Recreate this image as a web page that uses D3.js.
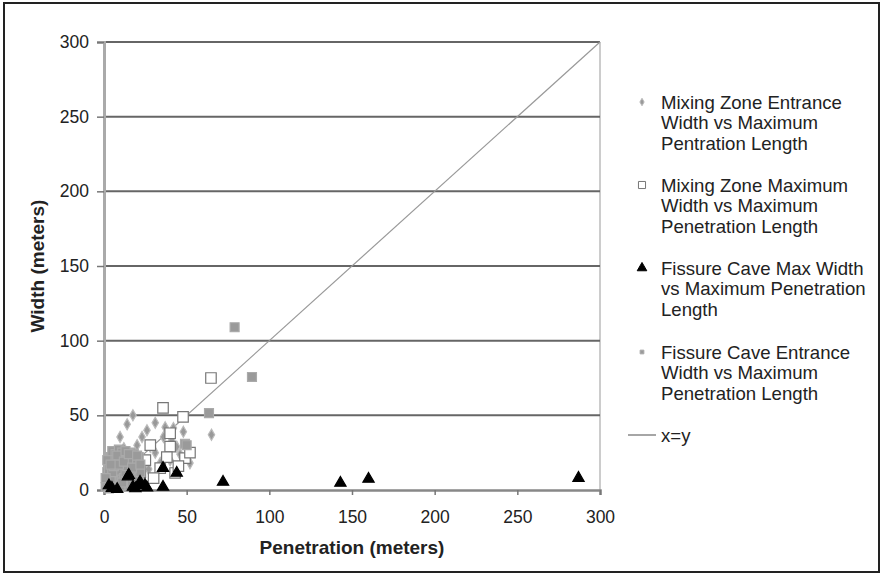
<!DOCTYPE html>
<html>
<head>
<meta charset="utf-8">
<script src="https://cdn.jsdelivr.net/npm/d3@7"></script>
<style>
  body { margin: 0; background: #fff; }
  svg { display: block; font-family: "Liberation Sans", Arial, sans-serif; }
</style>
</head>
<body>
<svg id="chart" width="882" height="575"></svg>
<script>
// data: [penetration, width] in meters
const mzEntrance = [
  [17.5, 50], [9.7, 35.5], [23, 35.5], [31, 45], [37, 42], [42, 41.5], [48, 39],
  [65, 37], [36, 35.5], [41, 33.5], [28, 29], [44, 29], [52, 18], [40, 20],
  [31, 25], [14, 44], [26, 40], [20, 30], [34, 18], [12, 28], [46, 24], [27, 14]
];
const mzMaximum = [
  [64.7, 75], [35.7, 55], [47.8, 49], [40, 29], [49, 21.4], [34, 14.7], [43, 11.4],
  [25, 20], [28, 30], [38, 22], [45, 16], [52, 25], [22, 12], [30, 8], [40, 38]
];
const fcMaxWidth = [
  [4.8, 1.3], [3, 3], [8, 0.5], [15, 10], [14.5, 9], [17.5, 2], [19, 1], [21.8, 3.4],
  [21.8, 5.4], [24.8, 3.3], [26, 1.5], [35.7, 2], [35.7, 14.7], [44, 11.4],
  [72, 5.4], [143, 4.7], [160, 7.4], [287, 8]
];
const fcEntrance = [
  [79, 109], [89.5, 75.7], [63.5, 51.5], [49, 31], [50, 30],
  [1, 2], [2, 5], [3, 9], [4, 13], [5, 17], [6, 21], [7, 3], [8, 7], [9, 11],
  [10, 15], [11, 19], [12, 23], [13, 4], [14, 8], [15, 12], [16, 16], [17, 20],
  [18, 24], [19, 6], [20, 14], [2, 12], [3, 18], [4, 22], [5, 7], [6, 11],
  [7, 15], [8, 19], [9, 2], [10, 6], [11, 10], [12, 14], [13, 18], [14, 22],
  [15, 3], [16, 7], [17, 11], [18, 15], [19, 19], [21, 22], [6, 25], [10, 24], [3, 1],
  [4, 4], [5, 26], [7, 24], [8, 13], [9, 27], [10, 3], [11, 25], [12, 8], [13, 12],
  [14, 16], [15, 20], [16, 25], [17, 5], [18, 9], [19, 13], [20, 18], [21, 8],
  [22, 12], [2, 20], [3, 14], [4, 8], [5, 12], [6, 16], [7, 20], [8, 23], [9, 17],
  [11, 5], [12, 19], [13, 26], [15, 24], [17, 15], [20, 23], [22, 17], [1, 8], [4, 17]
];
const xTicks = [0, 50, 100, 150, 200, 250, 300];
const yTicks = [0, 50, 100, 150, 200, 250, 300];
const legendItems = [
  { key: "mzEntrance", lines: ["Mixing Zone Entrance", "Width vs Maximum", "Pentration Length"] },
  { key: "mzMaximum", lines: ["Mixing Zone Maximum", "Width vs Maximum", "Penetration Length"] },
  { key: "fcMaxWidth", lines: ["Fissure Cave Max Width", "vs Maximum Penetration", "Length"] },
  { key: "fcEntrance", lines: ["Fissure Cave Entrance", "Width vs Maximum", "Penetration Length"] },
  { key: "xy", lines: ["x=y"] }
];

const svg = d3.select("#chart");

// outer frame
svg.append("rect")
  .attr("x", 4).attr("y", 3).attr("width", 875).attr("height", 569)
  .attr("fill", "#fff").attr("stroke", "#222").attr("stroke-width", 2);

const x = d3.scaleLinear().domain([0, 300]).range([104, 600]);
const y = d3.scaleLinear().domain([0, 300]).range([490, 42]);

// right border of plot area
svg.append("line")
  .attr("x1", x(300)).attr("x2", x(300)).attr("y1", y(0)).attr("y2", y(300))
  .attr("stroke", "#bbb").attr("stroke-width", 1.5);

// gridlines
svg.append("g")
  .selectAll("line")
  .data(yTicks.filter(d => d > 0))
  .join("line")
  .attr("x1", x(0)).attr("x2", x(300))
  .attr("y1", d => y(d)).attr("y2", d => y(d))
  .attr("stroke", "#666").attr("stroke-width", 2);

// axes
const xAxis = svg.append("g")
  .attr("transform", `translate(0,${y(0)})`)
  .call(d3.axisBottom(x).tickValues(xTicks).tickSize(5).tickPadding(16));
xAxis.select(".domain").attr("stroke", "#888").attr("stroke-width", 2.5);

const yAxis = svg.append("g")
  .attr("transform", `translate(${x(0)},0)`)
  .call(d3.axisLeft(y).tickValues(yTicks).tickSize(7).tickPadding(8));
yAxis.select(".domain").attr("stroke", "#aaa").attr("stroke-width", 3);

svg.selectAll(".tick line").attr("stroke", "#777").attr("stroke-width", 1.5);
svg.selectAll(".tick text")
  .attr("font-size", 17.5).attr("fill", "#222")
  .attr("font-family", "Liberation Sans, Arial, sans-serif");

// x = y line
svg.append("line")
  .attr("x1", x(0)).attr("y1", y(0)).attr("x2", x(300)).attr("y2", y(300))
  .attr("stroke", "#999").attr("stroke-width", 1.2);

// series
const sym = {
  mzEntrance: { type: d3.symbolDiamond, size: 36, fill: "#999", stroke: "#bbb", legendSize: 16 },
  mzMaximum: { type: d3.symbolSquare, size: 110, fill: "#fff", stroke: "#777", legendSize: 50 },
  fcMaxWidth: { type: d3.symbolTriangle, size: 55, fill: "#000", stroke: "#000", legendSize: 40 },
  fcEntrance: { type: d3.symbolSquare, size: 80, fill: "#9a9a9a", stroke: "#aaa", legendSize: 14 }
};
const seriesData = { mzEntrance, mzMaximum, fcEntrance, fcMaxWidth };

["mzEntrance", "mzMaximum", "fcEntrance", "fcMaxWidth"].forEach(k => {
  const s = sym[k];
  svg.append("g")
    .selectAll("path")
    .data(seriesData[k])
    .join("path")
    .attr("transform", d => `translate(${x(d[0])},${y(d[1])})`)
    .attr("d", d3.symbol().type(s.type).size(s.size))
    .attr("fill", s.fill)
    .attr("stroke", s.stroke)
    .attr("stroke-width", 1.2);
});

// axis titles
svg.append("text")
  .attr("x", (x(0) + x(300)) / 2).attr("y", 554)
  .attr("text-anchor", "middle")
  .attr("font-size", 19).attr("font-weight", "bold").attr("fill", "#222")
  .text("Penetration (meters)");

svg.append("text")
  .attr("transform", `translate(44,${(y(0) + y(300)) / 2}) rotate(-90)`)
  .attr("text-anchor", "middle")
  .attr("font-size", 19).attr("font-weight", "bold").attr("fill", "#222")
  .text("Width (meters)");

// legend
const groupTop = [102, 185, 268, 352, 435];
const lineH = 20.5;
const legend = svg.append("g");
legendItems.forEach((item, i) => {
  const g = legend.append("g").attr("transform", `translate(0,${groupTop[i]})`);
  if (item.key === "xy") {
    g.append("line").attr("x1", 628).attr("x2", 656).attr("y1", 0).attr("y2", 0)
      .attr("stroke", "#888").attr("stroke-width", 1.5);
  } else {
    const s = sym[item.key];
    g.append("path")
      .attr("transform", "translate(642,0)")
      .attr("d", d3.symbol().type(s.type).size(s.legendSize))
      .attr("fill", s.fill).attr("stroke", s.stroke).attr("stroke-width", 1);
  }
  g.selectAll("text")
    .data(item.lines)
    .join("text")
    .attr("x", 661)
    .attr("y", (d, j) => j * lineH)
    .attr("dy", "0.35em")
    .attr("font-size", 18.6).attr("fill", "#222")
    .text(d => d);
});
</script>
</body>
</html>
